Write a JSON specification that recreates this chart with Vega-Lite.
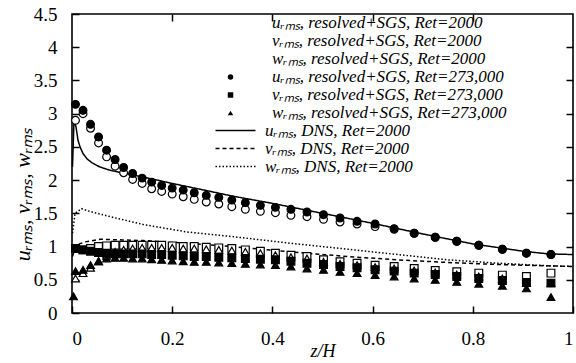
{
  "$schema": "https://vega.github.io/schema/vega-lite/v6.json",
  "autosize": {"type": "none"},
  "padding": {"left": 72, "top": 14, "right": 2, "bottom": 50},
  "width": 501,
  "height": 299,
  "config": {
    "view": {"stroke": "black", "strokeWidth": 1.6},
    "font": "Liberation Serif",
    "axis": {"domain": false, "grid": false, "tickColor": "black", "tickSize": -7, "tickWidth": 1.5,
             "labelFont": "Liberation Serif", "labelFontSize": 19, "labelColor": "black",
             "titleFont": "Liberation Serif", "titleFontSize": 19, "titleFontStyle": "italic", "titleFontWeight": "normal", "titleColor": "black"},
    "legend": {"labelFont": "Liberation Serif", "labelFontSize": 17, "labelFontStyle": "italic", "labelColor": "black", "padding": 0, "rowPadding": 0, "labelLimit": 400}
  },
  "layer": [
    {
      "data": {"values": [
        {"s":"l1","z":0.001,"v":2.2},{"s":"l1","z":0.004,"v":2.9},{"s":"l1","z":0.008,"v":2.8},{"s":"l1","z":0.012,"v":2.6},{"s":"l1","z":0.016,"v":2.5},{"s":"l1","z":0.022,"v":2.4},{"s":"l1","z":0.03,"v":2.32},{"s":"l1","z":0.04,"v":2.26},{"s":"l1","z":0.055,"v":2.2},{"s":"l1","z":0.075,"v":2.15},{"s":"l1","z":0.1,"v":2.11},{"s":"l1","z":0.14,"v":2.05},{"s":"l1","z":0.2,"v":1.95},{"s":"l1","z":0.27,"v":1.84},{"s":"l1","z":0.32,"v":1.76},{"s":"l1","z":0.4,"v":1.65},{"s":"l1","z":0.5,"v":1.5},{"s":"l1","z":0.6,"v":1.35},{"s":"l1","z":0.7,"v":1.19},{"s":"l1","z":0.8,"v":1.04},{"s":"l1","z":0.9,"v":0.93},{"s":"l1","z":0.95,"v":0.89},{"s":"l1","z":1.0,"v":0.88},
        {"s":"l2","z":0.001,"v":0.85},{"s":"l2","z":0.006,"v":0.98},{"s":"l2","z":0.015,"v":1.04},{"s":"l2","z":0.026,"v":1.07},{"s":"l2","z":0.056,"v":1.11},{"s":"l2","z":0.1,"v":1.1},{"s":"l2","z":0.143,"v":1.09},{"s":"l2","z":0.229,"v":1.05},{"s":"l2","z":0.32,"v":1.0},{"s":"l2","z":0.436,"v":0.92},{"s":"l2","z":0.55,"v":0.85},{"s":"l2","z":0.65,"v":0.8},{"s":"l2","z":0.75,"v":0.76},{"s":"l2","z":0.85,"v":0.73},{"s":"l2","z":0.95,"v":0.71},{"s":"l2","z":1.0,"v":0.7},
        {"s":"l3","z":0.001,"v":1.2},{"s":"l3","z":0.006,"v":1.5},{"s":"l3","z":0.019,"v":1.57},{"s":"l3","z":0.035,"v":1.53},{"s":"l3","z":0.076,"v":1.45},{"s":"l3","z":0.143,"v":1.33},{"s":"l3","z":0.229,"v":1.22},{"s":"l3","z":0.32,"v":1.15},{"s":"l3","z":0.436,"v":1.05},{"s":"l3","z":0.55,"v":0.96},{"s":"l3","z":0.65,"v":0.88},{"s":"l3","z":0.75,"v":0.8},{"s":"l3","z":0.85,"v":0.75},{"s":"l3","z":0.95,"v":0.71},{"s":"l3","z":1.0,"v":0.7}
      ]},
      "mark": {"type": "line", "color": "black", "strokeWidth": 1.5},
      "encoding": {
        "x": {"field": "z", "type": "quantitative", "scale": {"domain": [0, 1], "nice": false},
              "axis": {"orient": "bottom", "values": [0, 0.2, 0.4, 0.6, 0.8, 1], "format": "~g", "labelPadding": 23, "title": "z/H", "titlePadding": -6, "titleFontSize": 18}},
        "y": {"field": "v", "type": "quantitative", "scale": {"domain": [0, 4.5], "nice": false},
              "axis": {"orient": "left", "values": [0, 0.5, 1, 1.5, 2, 2.5, 3, 3.5, 4, 4.5], "format": "~g", "labelPadding": 22,
                       "title": "uᵣₘₛ, vᵣₘₛ, wᵣₘₛ", "titleFontSize": 22, "titleY": 180, "titleX": -50, "titleAngle": -90, "titleAlign": "center", "titleBaseline": "middle"}},
        "strokeDash": {"field": "s", "type": "nominal",
                       "scale": {"domain": ["l1", "l2", "l3"], "range": [[1, 0], [4, 3], [1.5, 2]]},
                       "legend": {"title": null, "orient": "none", "legendX": 155, "legendY": 108, "symbolType": "M-4,0H4", "symbolSize": 100, "symbolStrokeColor": "black", "symbolStrokeWidth": 1.5, "labelOffset": 21,
                                  "labelExpr": "datum.label == 'l1' ? 'uᵣₘₛ, DNS, Ret=2000' : datum.label == 'l2' ? 'vᵣₘₛ, DNS, Ret=2000' : 'wᵣₘₛ, DNS, Ret=2000'"}}
      }
    },
    {
      "data": {"values": [
        {"z":0.003,"f":0.25},
        {"z":0.007,"a":2.90,"b":0.97,"c":0.52,"d":3.14,"e":0.97,"f":0.63},
        {"z":0.022,"a":3.00,"b":0.95,"c":0.60,"d":3.05,"e":0.95,"f":0.65},
        {"z":0.037,"a":2.78,"b":0.97,"c":0.68,"d":2.84,"e":0.93,"f":0.72},
        {"z":0.053,"a":2.56,"b":1.00,"c":0.78,"d":2.65,"e":0.91,"f":0.78},
        {"z":0.069,"a":2.35,"b":1.01,"c":0.86,"d":2.45,"e":0.90,"f":0.82},
        {"z":0.086,"a":2.21,"b":1.02,"c":0.92,"d":2.31,"e":0.89,"f":0.83},
        {"z":0.103,"a":2.11,"b":1.02,"c":0.95,"d":2.19,"e":0.89,"f":0.83},
        {"z":0.121,"a":2.01,"b":1.02,"c":0.97,"d":2.10,"e":0.89,"f":0.82},
        {"z":0.140,"a":1.95,"b":1.02,"c":0.98,"d":2.03,"e":0.89,"f":0.82},
        {"z":0.159,"a":1.87,"b":1.02,"c":0.98,"d":1.97,"e":0.88,"f":0.81},
        {"z":0.179,"a":1.83,"b":1.02,"c":0.98,"d":1.92,"e":0.88,"f":0.80},
        {"z":0.200,"a":1.79,"b":1.01,"c":0.98,"d":1.88,"e":0.87,"f":0.79},
        {"z":0.222,"a":1.75,"b":1.00,"c":0.97,"d":1.85,"e":0.86,"f":0.78},
        {"z":0.244,"a":1.71,"b":1.00,"c":0.97,"d":1.81,"e":0.85,"f":0.77},
        {"z":0.268,"a":1.67,"b":0.99,"c":0.96,"d":1.77,"e":0.85,"f":0.77},
        {"z":0.293,"a":1.64,"b":0.98,"c":0.95,"d":1.74,"e":0.84,"f":0.76},
        {"z":0.319,"a":1.60,"b":0.97,"c":0.94,"d":1.70,"e":0.83,"f":0.75},
        {"z":0.346,"a":1.56,"b":0.95,"c":0.92,"d":1.66,"e":0.82,"f":0.74},
        {"z":0.376,"a":1.53,"b":0.93,"c":0.90,"d":1.62,"e":0.81,"f":0.73},
        {"z":0.406,"a":1.51,"b":0.90,"c":0.87,"d":1.59,"e":0.80,"f":0.72},
        {"z":0.437,"a":1.47,"b":0.87,"c":0.84,"d":1.56,"e":0.78,"f":0.70},
        {"z":0.469,"a":1.45,"b":0.85,"c":0.82,"d":1.52,"e":0.75,"f":0.67},
        {"z":0.502,"a":1.41,"b":0.80,"c":0.77,"d":1.48,"e":0.73,"f":0.65},
        {"z":0.535,"a":1.37,"b":0.77,"c":0.74,"d":1.43,"e":0.70,"f":0.62},
        {"z":0.569,"a":1.34,"b":0.75,"c":0.72,"d":1.38,"e":0.68,"f":0.60},
        {"z":0.605,"a":1.30,"b":0.72,"c":0.69,"d":1.34,"e":0.65,"f":0.57},
        {"z":0.643,"a":1.26,"b":0.70,"c":0.67,"d":1.27,"e":0.63,"f":0.55},
        {"z":0.683,"a":1.20,"b":0.67,"c":0.64,"d":1.20,"e":0.60,"f":0.52},
        {"z":0.725,"a":1.14,"b":0.64,"c":0.61,"d":1.14,"e":0.58,"f":0.50},
        {"z":0.768,"a":1.08,"b":0.62,"c":0.58,"d":1.08,"e":0.55,"f":0.47},
        {"z":0.812,"a":1.02,"b":0.60,"c":0.55,"d":1.02,"e":0.52,"f":0.44},
        {"z":0.859,"a":0.96,"b":0.57,"c":0.52,"d":0.96,"e":0.49,"f":0.41},
        {"z":0.907,"a":0.90,"b":0.55,"c":0.45,"d":0.90,"e":0.46,"f":0.37},
        {"z":0.956,"a":0.88,"b":0.60,"c":0.45,"d":0.88,"e":0.45,"f":0.24}
      ]},
      "transform": [
        {"fold": ["a", "b", "c", "d", "e", "f"], "as": ["s", "v"]},
        {"filter": "isValid(datum.v)"}
      ],
      "mark": {"type": "point", "filled": true, "stroke": "black", "strokeWidth": 1.2, "opacity": 1, "size": 60},
      "encoding": {
        "x": {"field": "z", "type": "quantitative", "scale": {"domain": [0, 1], "nice": false},
              "axis": {"orient": "top", "values": [0.2, 0.4, 0.6, 0.8], "labels": false, "title": null}},
        "y": {"field": "v", "type": "quantitative", "scale": {"domain": [0, 4.5], "nice": false},
              "axis": {"orient": "right", "values": [0.5, 1, 1.5, 2, 2.5, 3, 3.5, 4], "labels": false, "title": null}},
        "shape": {"field": "s", "type": "nominal",
                  "scale": {"domain": ["a", "b", "c", "d", "e", "f"], "range": ["circle", "square", "triangle-up", "circle", "square", "triangle-up"]},
                  "legend": {"title": null, "orient": "none", "legendX": 150, "legendY": 0.5, "symbolSize": 30, "symbolStrokeColor": "black", "symbolStrokeWidth": 1, "labelOffset": 33,
                             "encode": {"symbols": {"update": {"stroke": {"value": "black"}, "strokeWidth": {"value": 1}}}},
                             "labelExpr": "datum.label == 'a' ? 'uᵣₘₛ, resolved+SGS, Ret=2000' : datum.label == 'b' ? 'vᵣₘₛ, resolved+SGS, Ret=2000' : datum.label == 'c' ? 'wᵣₘₛ, resolved+SGS, Ret=2000' : datum.label == 'd' ? 'uᵣₘₛ, resolved+SGS, Ret=273,000' : datum.label == 'e' ? 'vᵣₘₛ, resolved+SGS, Ret=273,000' : 'wᵣₘₛ, resolved+SGS, Ret=273,000'"}},
        "fill": {"field": "s", "type": "nominal",
                 "scale": {"domain": ["a", "b", "c", "d", "e", "f"], "range": ["white", "white", "white", "black", "black", "black"]},
                 "legend": {"title": null, "orient": "none", "legendX": 150, "legendY": 0.5, "symbolSize": 30, "symbolStrokeColor": "black", "symbolStrokeWidth": 1, "labelOffset": 33,
                            "encode": {"symbols": {"update": {"stroke": {"value": "black"}, "strokeWidth": {"value": 1}}}},
                            "labelExpr": "datum.label == 'a' ? 'uᵣₘₛ, resolved+SGS, Ret=2000' : datum.label == 'b' ? 'vᵣₘₛ, resolved+SGS, Ret=2000' : datum.label == 'c' ? 'wᵣₘₛ, resolved+SGS, Ret=2000' : datum.label == 'd' ? 'uᵣₘₛ, resolved+SGS, Ret=273,000' : datum.label == 'e' ? 'vᵣₘₛ, resolved+SGS, Ret=273,000' : 'wᵣₘₛ, resolved+SGS, Ret=273,000'"}}
      }
    }
  ],
  "resolve": {"axis": {"x": "independent", "y": "independent"}}
}
